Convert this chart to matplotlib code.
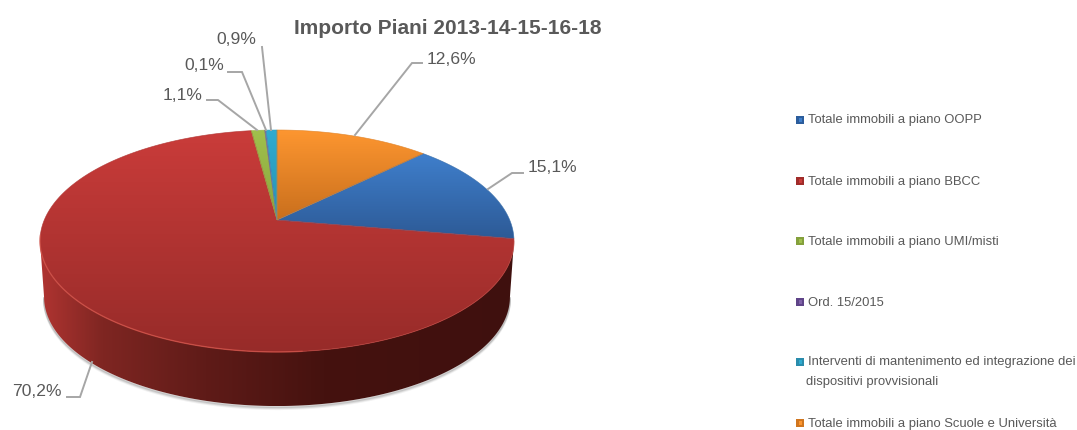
#!/usr/bin/env python3
import numpy as np
from matplotlib import pyplot as plt
from matplotlib.colors import LinearSegmentedColormap
from matplotlib.patches import Polygon, Rectangle

plt.rcParams['font.family'] = ['Liberation Sans', 'DejaVu Sans']

title = "Importo Piani 2013-14-15-16-18"
categories = ["Totale immobili a piano OOPP",
              "Totale immobili a piano BBCC",
              "Totale immobili a piano UMI/misti",
              "Ord. 15/2015",
              "Interventi di mantenimento ed integrazione dei\ndispositivi provvisionali",
              "Totale immobili a piano Scuole e Università"]
values = [15.1, 70.2, 1.1, 0.1, 0.9, 12.6]
labels = ["15,1%", "70,2%", "1,1%", "0,1%", "0,9%", "12,6%"]

top_colors = ["#3f7fcc", "#ca3c3a", "#a0c04c", "#8062a8", "#2fabd0", "#fd9630"]
low_colors = ["#2d5a96", "#972b29", "#8aa63e", "#6a4f90", "#2892b2", "#c96f1d"]
mid_colors = ["#366ca8", "#b03432", "#94b244", "#74589c", "#2c9fc0", "#e08226"]
key_colors = ["#2c5d9c", "#a02c2a", "#84a03c", "#5f4488", "#2a8cac", "#d0761f"]

# leader lines and label anchors, in picture pixels
leaders = [[(488, 189), (512, 173), (523, 173)],
           [(92, 362), (80, 397), (67, 397)],
           [(257, 130), (218, 100), (207, 100)],
           [(266, 130), (242, 72), (228, 72)],
           [(271, 130), (262, 47)],
           [(355, 135), (412, 63), (422, 63)]]
label_pos = [(528, 168), (62, 391), (202, 96), (224, 66), (256, 39), (427, 59)]
legend_y = [120, 181, 241, 302, 362, 423]

cx, apex_y, ell_y = 277, 220, 241
k, A, B = 0.189, 232.7, 107.0
depth, shrink = 56, 0.983


def project(theta, lower=False):
    # tilted disc seen in perspective, theta clockwise from the top
    u, v = np.sin(theta), np.cos(theta)
    w = 1 + k * v
    x = cx + A * u / w
    y = apex_y - B * v / w
    if lower:
        x = cx + (x - cx) * shrink
        y = ell_y + (y - ell_y) * shrink + depth
    return x, y


def gradient_fill(ax, pts, stops, horizontal=False):
    pts = np.array(pts)
    x0, x1 = pts[:, 0].min(), pts[:, 0].max()
    y0, y1 = pts[:, 1].min(), pts[:, 1].max()
    cmap = LinearSegmentedColormap.from_list("g", stops)
    g = np.linspace(0, 1, 256)
    g = g.reshape(1, -1) if horizontal else g.reshape(-1, 1)
    im = ax.imshow(g, cmap=cmap, vmin=0, vmax=1, extent=(x0, x1, y1, y0),
                   aspect='auto', interpolation='bilinear', zorder=3)
    im.set_clip_path(Polygon(pts, closed=True, transform=ax.transData))
    return im


fig = plt.figure(figsize=(10.77, 4.30), dpi=100)
ax = fig.add_axes([0, 0, 1, 1])
ax.axis('off')

# side wall: only the big slice faces the viewer
side = np.radians(np.linspace(100.9, 259.1, 200))
tx, ty = project(side)
bx, by = project(side, lower=True)
for off, a in [(3.0, 0.10), (2.0, 0.18), (1.0, 0.30)]:
    ax.plot(bx, by + off, color="#777777", lw=1.5, alpha=a, zorder=2)
wall = list(zip(tx, ty)) + list(zip(bx[::-1], by[::-1]))
gradient_fill(ax, wall, [(0, "#b03431"), (0.13, "#7f2622"), (0.35, "#5f1b18"),
                         (0.6, "#45120f"), (1, "#3f100e")], horizontal=True)

# top face
start = values[-1] / 100 * 2 * np.pi
for i, val in enumerate(values):
    end = start + val / 100 * 2 * np.pi
    th = np.linspace(start, end, max(4, int(val * 6)))
    x, y = project(th)
    pts = [(cx, apex_y)] + list(zip(x, y))
    gradient_fill(ax, pts, [top_colors[i], low_colors[i]])
    # thin outline to soften the stair steps of the clipped image
    ax.add_patch(Polygon(pts, closed=True, fill=False, ec=mid_colors[i], lw=0.5,
                         alpha=0.8, zorder=3.5))
    start = end

# light rim on the front edge
rim = np.radians(np.linspace(175, 262, 100))
ax.plot(*project(rim), color="#d4544a", lw=1.0, alpha=0.7, zorder=4)
rim = np.radians(np.linspace(101, 175, 100))
ax.plot(*project(rim), color="#c0453c", lw=0.8, alpha=0.35, zorder=4)

for line, pos, lab in zip(leaders, label_pos, labels):
    xs, ys = zip(*line)
    ax.plot(xs, ys, color="#a6a6a6", lw=1.4, zorder=5, solid_joinstyle='miter')
    ha = 'right' if lab in ("70,2%", "1,1%", "0,1%", "0,9%") else 'left'
    ax.text(pos[0], pos[1], lab, fontsize=12.6, color="#595959", ha=ha,
            va='center', zorder=6)

ax.text(448, 29, title, fontsize=15, fontweight='bold', color="#595959",
        ha='center', va='center', zorder=6)

for cat, col, top, y in zip(categories, key_colors, top_colors, legend_y):
    ax.add_patch(Rectangle((796, y - 4), 8, 8, color=col, lw=0, zorder=5))
    ax.add_patch(Rectangle((798.5, y - 2), 3.5, 3.5, color=top, lw=0, zorder=6))
    lines = cat.split("\n")
    ax.text(807.5, y + 0.5, lines[0], fontsize=9.4, color="#595959", va='center', zorder=6)
    if len(lines) > 1:
        ax.text(806.5, y + 20.5, lines[1], fontsize=9.4, color="#595959",
                va='center', zorder=6)

ax.set_xlim(0, 1077)
ax.set_ylim(430, 0)
fig.savefig("out.png", dpi=100)
